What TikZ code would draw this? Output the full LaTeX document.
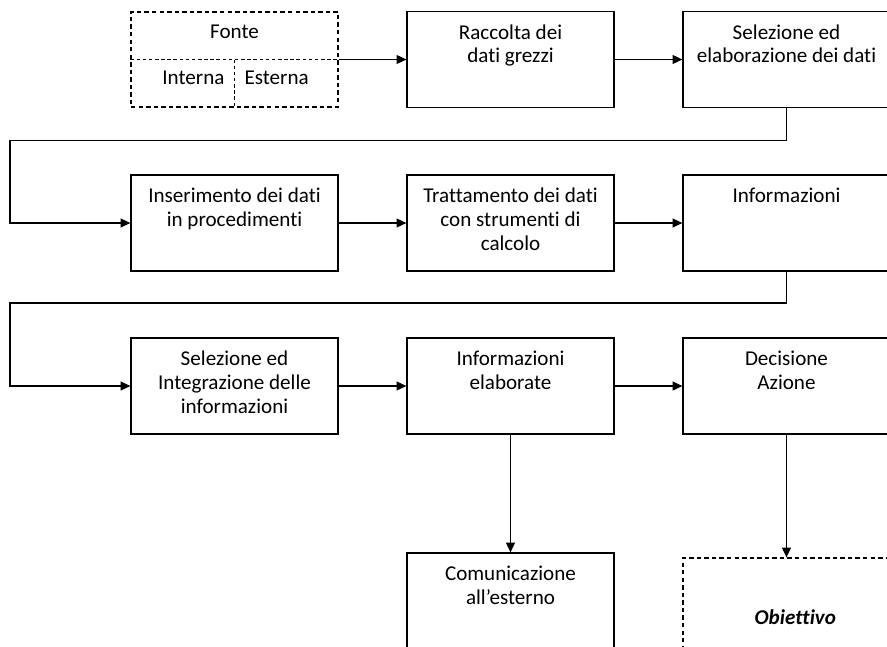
\documentclass[tikz,border=0pt]{standalone}
\usepackage{fontspec}
\setmainfont[Ligatures=NoCommon]{Carlito}
\usetikzlibrary{positioning,arrows.meta}

\begin{document}
\begin{tikzpicture}
   \tikzstyle{box}=[draw,line width=0.7pt,minimum width=4.14cm,minimum height=1.92cm,inner sep=0pt]
   \tikzstyle{dbox}=[box,dash pattern=on 2.5pt off 1.8pt]
   \tikzstyle{txt}=[anchor=north,align=center,inner sep=0pt,yshift=-7.5pt,font=\fontsize{12}{13.6}\selectfont]
   \tikzstyle{arrow}=[draw,line width=0.8pt,-{Triangle[length=5.5pt,width=5pt]}]
   \useasboundingbox (0,0) rectangle (17.74,-12.92) ;
   \clip (0,0) rectangle (17.74,-12.92) ;
   % first row
   \node (fon) [dbox,minimum height=1.90cm,label={[txt]north:Fonte}] at (4.69,-1.19) {} ;
   \node (rac) [box,right of=fon,node distance=5.52cm,label={[txt]north:Raccolta dei\\dati grezzi}] {} ;
   \node (sel) [box,right of=rac,node distance=5.52cm,label={[txt]north:Selezione ed\\elaborazione dei dati}] {} ;
   \draw [dash pattern=on 2pt off 1.5pt,line width=0.5pt] (fon.west) -- (fon.east) ;
   \draw [dash pattern=on 2pt off 1.5pt,line width=0.5pt] (fon.center) -- (fon.south) ;
   \node (int) [below left=6.5pt and 5.5pt of fon.center,inner sep=0pt,font=\fontsize{12}{13.6}\selectfont] {Interna} ;
   \node (est) [below right=6.5pt and 5.5pt of fon.center,inner sep=0pt,font=\fontsize{12}{13.6}\selectfont] {Esterna} ;
   % second row
   \node (ins) [box,below of=fon,node distance=3.27cm,label={[txt]north:Inserimento dei dati\\in procedimenti}] {} ;
   \node (tra) [box,right of=ins,node distance=5.52cm,label={[txt]north:Trattamento dei dati\\con strumenti di\\calcolo}] {} ;
   \node (inf) [box,right of=tra,node distance=5.52cm,label={[txt]north:Informazioni}] {} ;
   % third row
   \node (sei) [box,below of=ins,node distance=3.26cm,label={[txt]north:Selezione ed\\Integrazione delle\\informazioni}] {} ;
   \node (ela) [box,right of=sei,node distance=5.52cm,label={[txt]north:Informazioni\\elaborate}] {} ;
   \node (dec) [box,right of=ela,node distance=5.52cm,label={[txt]north:Decisione\\Azione}] {} ;
   % last row
   \node (com) [box,below of=ela,node distance=4.30cm,label={[txt]north:Comunicazione\\all’esterno}] {} ;
   \node (obi) [dbox,below of=dec,node distance=4.62cm,minimum height=2.36cm,font=\fontsize{12}{13.6}\selectfont\bfseries\itshape] {\hspace*{0.35cm}Obiettivo} ;
   \coordinate (lp1) at (0.2,-2.81) ;
   \coordinate (lp2) at (0.2,-6.06) ;
   \path [arrow] (fon) -- (rac) ;
   \path [arrow] (rac) -- (sel) ;
   \path [arrow] (sel.south) |- (lp1) |- (ins.west) ;
   \path [arrow] (ins) -- (tra) ;
   \path [arrow] (tra) -- (inf) ;
   \path [arrow] (inf.south) |- (lp2) |- (sei.west) ;
   \path [arrow] (sei) -- (ela) ;
   \path [arrow] (ela) -- (dec) ;
   \path [arrow] (ela) -- (com) ;
   \path [arrow] (dec) -- (obi) ;
\end{tikzpicture}
\end{document}
